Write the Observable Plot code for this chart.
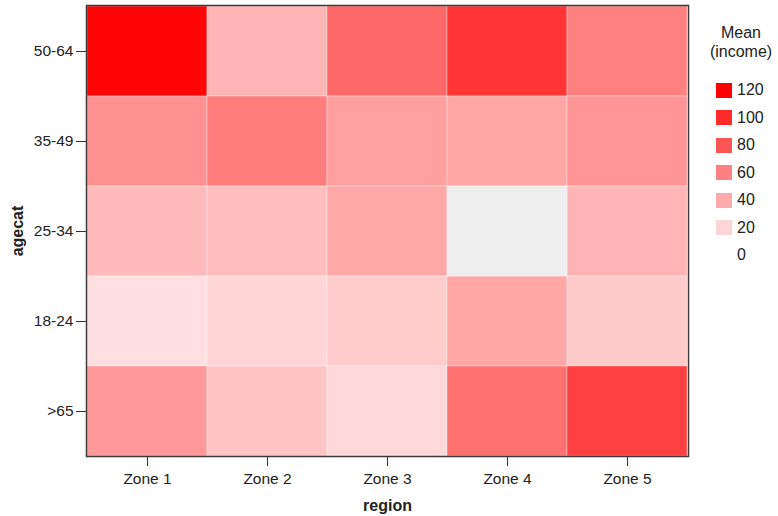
<!DOCTYPE html>
<html>
<head>
<meta charset="utf-8">
<script src="https://cdn.jsdelivr.net/npm/d3@7"></script>
<script src="https://cdn.jsdelivr.net/npm/@observablehq/plot@0.6"></script>
<style>
  html, body { margin: 0; padding: 0; background: #fff; }
  #wrap { position: relative; width: 778px; height: 516px; font-family: "Liberation Sans", Arial, sans-serif; }
  #legend { position: absolute; left: 700px; top: 0; width: 78px; height: 300px; color: #222; font-size: 16px; }
  g[aria-label="y-axis label"] text, g[aria-label="x-axis label"] text { font-weight: bold; font-size: 16px; }
</style>
</head>
<body>
<div id="wrap"></div>
<script>
// Data
const regions = ["Zone 1", "Zone 2", "Zone 3", "Zone 4", "Zone 5"];
const ageCats = ["50-64", "35-49", "25-34", "18-24", ">65"];
// mean income per age category (in ageCats order) for each region
const zone1 = [117, 52, 32, 15, 48];
const zone2 = [35, 61, 31, 20, 28];
const zone3 = [71, 45, 41, 24, 18];
const zone4 = [95, 42, null, 42, 67];
const zone5 = [60, 50, 35, 25, 90];
const legendValues = [120, 100, 80, 60, 40, 20, 0];

const series = [zone1, zone2, zone3, zone4, zone5];
const table = [];
regions.forEach((r, i) => ageCats.forEach((a, j) => table.push({region: r, agecat: a, income: series[i][j]})));
const present = table.filter(d => d.income != null);
const missing = table.filter(d => d.income == null);

const plot = Plot.plot({
  width: 778,
  height: 516,
  marginLeft: 86,
  marginRight: 90,
  marginTop: 5,
  marginBottom: 60,
  style: {fontFamily: '"Liberation Sans", Arial, sans-serif', fontSize: "15.5px", color: "#222", background: "#fff"},
  x: {domain: regions, padding: 0},
  y: {domain: ageCats, padding: 0},
  color: {type: "linear", domain: [0, 120], range: ["#ffffff", "#ff0000"], interpolate: "rgb"},
  marks: [
    Plot.cell(present, {x: "region", y: "agecat", fill: "income", stroke: "#fff", strokeOpacity: 0.35, strokeWidth: 1}),
    Plot.cell(missing, {x: "region", y: "agecat", fill: "#eeeeee", stroke: "#fff", strokeOpacity: 0.35, strokeWidth: 1}),
    Plot.frame({stroke: "#3a3a3a", strokeWidth: 1.5}),
    Plot.axisX({tickSize: 10, tickPadding: 6, label: "region", labelAnchor: "center", labelOffset: 54, stroke: "#333"}),
    Plot.axisY({tickSize: 10, tickPadding: 3, label: "agecat", labelAnchor: "center", labelOffset: 75, stroke: "#333"})
  ]
});

const wrap = document.getElementById("wrap");
wrap.appendChild(plot);

// Legend built from the plot's own color scale
const colorScale = plot.scale("color");
const legend = document.createElement("div");
legend.id = "legend";
let html = '<div style="position:absolute;left:0;width:82px;top:23px;text-align:center;line-height:19px;">Mean<br>(income)</div>';
legendValues.forEach((v, i) => {
  const cy = 90 + i * 27.5;
  html += `<div style="position:absolute;left:16px;top:${cy - 7.5}px;width:16px;height:15px;background:${colorScale.apply(v)}"></div>`;
  html += `<div style="position:absolute;left:37px;top:${cy - 10}px;line-height:20px;">${v}</div>`;
});
legend.innerHTML = html;
wrap.appendChild(legend);
</script>
</body>
</html>
